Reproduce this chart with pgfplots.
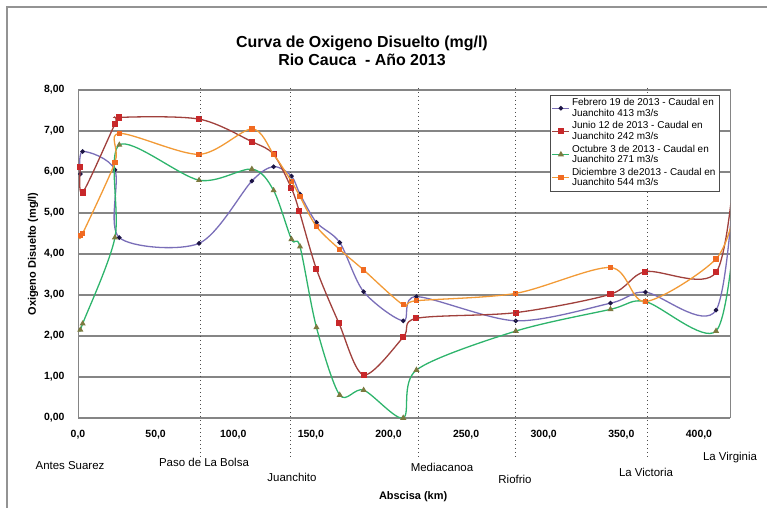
\documentclass[border=0pt]{standalone}
\usepackage{fontspec}
\setmainfont{Liberation Sans}
\usepackage{pgfplots}
\pgfplotsset{compat=1.18}

\definecolor{febline}{HTML}{7A6EB8}
\definecolor{febmark}{HTML}{1C1444}
\definecolor{junline}{HTML}{A0403C}
\definecolor{junmark}{HTML}{C8282A}
\definecolor{octline}{HTML}{2EB46C}
\definecolor{octmark}{HTML}{7C7A40}
\definecolor{dicline}{HTML}{F29A36}
\definecolor{dicmark}{HTML}{F06A22}
\definecolor{gridc}{HTML}{858585}

\begin{document}
\begin{tikzpicture}[x=1bp,y=1bp]
\path[use as bounding box] (0,0) rectangle (767,508);
\draw[gray!85, line width=2bp] (7,0) -- (7,501) -- (767,501);

\node[font=\bfseries\fontsize{16}{18}\selectfont] at (362,465) {Curva de Oxigeno Disuelto (mg/l)};
\node[font=\bfseries\fontsize{16}{18}\selectfont] at (362,448) {Rio Cauca \ - Año 2013};

\begin{axis}[
    at={(78bp,90bp)}, anchor=south west,
    scale only axis, width=652bp, height=328bp,
    xmin=0, xmax=420, ymin=0, ymax=8,
    xtick={0,50,...,400}, ytick={0,1,...,8},
    axis line style={gridc, line width=1bp},
    ymajorgrids, grid style={gridc, line width=1.3bp},
    major tick length=0pt,
    ticklabel style={font=\bfseries\fontsize{10.5}{12}\selectfont},
    /pgf/number format/assume math mode=true,
    /pgf/number format/use comma,
    /pgf/number format/fixed,
    /pgf/number format/fixed zerofill,
    xticklabel style={/pgf/number format/precision=1, yshift=-9bp},
    yticklabel style={/pgf/number format/precision=2, xshift=-10bp},
    xlabel={Abscisa (km)},
    ylabel={Oxigeno Disuelto (mg/l)},
    every axis x label/.style={at={(axis description cs:0.514,-0.241)}, anchor=center,
        font=\bfseries\fontsize{11}{12}\selectfont},
    every axis y label/.style={at={(axis description cs:-0.069,0.5)}, rotate=90, anchor=center,
        font=\bfseries\fontsize{11}{12}\selectfont},
    clip mode=individual,
    legend style={at={(0.724,0.985)}, anchor=north west, draw=black!70, fill=white,
        font=\fontsize{10}{10.5}\selectfont, cells={align=left, anchor=west},
        inner sep=1.5pt, row sep=0pt},
    every axis plot/.append style={smooth, tension=0.5, line width=1.3bp},
]
\addplot[febline, mark=*, mark size=1.6pt, mark options={fill=febmark, draw=febmark}] coordinates {
(1.5,5.95) (3,6.5) (23.8,6.05) (26.6,4.40) (78,4.26) (112,5.78) (126,6.13)
(137.5,5.90) (143,5.46) (153.6,4.77) (168.6,4.28) (184,3.08) (209.5,2.37)
(218,2.96) (282,2.37) (343,2.80) (365.5,3.07) (411,2.63) (424,6.6)};
\addlegendentry{Febrero 19 de 2013 - Caudal en\\Juanchito 413 m3/s}

\addplot[junline, mark=square*, mark size=2.4pt, mark options={fill=junmark, draw=junmark}] coordinates {
(1.5,6.12) (3,5.50) (23.8,7.17) (26.6,7.33) (78,7.29) (112,6.74) (126,6.43)
(137.5,5.60) (142.5,5.05) (153.6,3.63) (168,2.32) (184,1.05) (209.5,1.97)
(218,2.43) (282,2.57) (343,3.02) (365.5,3.57) (411,3.55) (424,6.6)};
\addlegendentry{Junio 12 de 2013 - Caudal en\\Juanchito 242 m3/s}

\addplot[octline, mark=triangle*, mark size=2.3pt, mark options={fill=octmark, draw=octmark}] coordinates {
(1.5,2.15) (3,2.3) (23.8,4.40) (26.6,6.66) (78,5.80) (112,6.07) (126,5.55)
(137.5,4.36) (143,4.18) (153.6,2.21) (168.6,0.56) (184,0.68) (209.5,0.0)
(218,1.17) (282,2.12) (343,2.65) (365.5,2.84) (411,2.12) (424,5.0)};
\addlegendentry{Octubre 3 de 2013 - Caudal en\\Juanchito 271 m3/s}

\addplot[dicline, mark=square*, mark size=2pt, mark options={fill=dicmark, draw=dicmark}] coordinates {
(1.5,4.45) (3,4.50) (23.8,6.23) (26.6,6.94) (78,6.43) (112,7.05) (126,6.43)
(137.5,5.77) (143,5.40) (153.6,4.67) (168.6,4.11) (184,3.61) (209.5,2.76)
(218,2.86) (282,3.04) (343,3.67) (365.5,2.84) (411,3.88) (424,5.2)};
\addlegendentry{Diciembre 3 de2013 - Caudal en\\Juanchito 544 m3/s}

\foreach \s in {79,137,219,282,367} {
  \edef\temp{\noexpand\draw[black!70, line width=0.8bp, dash pattern=on 1.5bp off 2.5bp]
    (axis cs:\s,8.05) -- (axis cs:\s,-0.93);}
  \temp
}
\end{axis}

\begin{scope}[every node/.style={font=\fontsize{11.5}{13}\selectfont}]
\node at (70,42) {Antes Suarez};
\node at (204,46) {Paso de La Bolsa};
\node at (292,31) {Juanchito};
\node at (442,41) {Mediacanoa};
\node at (515,29) {Riofrio};
\node at (646,36) {La Victoria};
\node at (730,50) {La Virginia};
\end{scope}
\end{tikzpicture}
\end{document}
